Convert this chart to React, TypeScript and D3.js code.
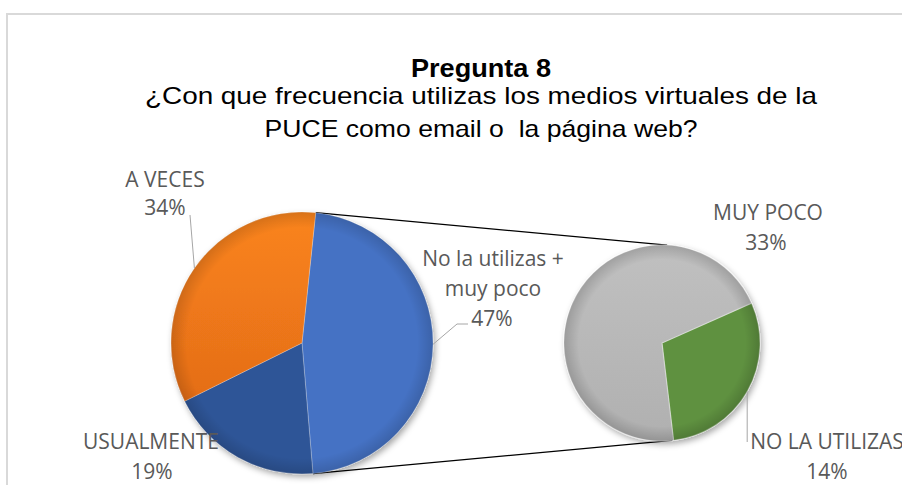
import React from "react";
import * as d3 from "d3";

const mainCategories = ["No la utilizas + muy poco", "USUALMENTE", "A VECES"];
const mainValues = [47, 19, 34];
const mainColors = ["#4472C4", "#2F5597", "#F07A1E"];

const subCategories = ["NO LA UTILIZAS", "MUY POCO"];
const subValues = [14, 33];
const subColors = ["#5E913F", "#B7B7B7"];

const titleText = "Pregunta 8";
const subtitleLines = [
  "¿Con que frecuencia utilizas los medios virtuales de la",
  "PUCE como email o  la página web?",
];

const W = 902;
const H = 485;
const deg = Math.PI / 180;

const main = { cx: 302, cy: 343, r: 131, start: 6 * deg };
const sub = { cx: 662, cy: 343, r: 98, start: 66 * deg };

function pt(c: { cx: number; cy: number }, r: number, a: number) {
  return [c.cx + r * Math.sin(a), c.cy - r * Math.cos(a)];
}

export default function App() {
  const mainPie = d3
    .pie<number>()
    .sort(null)
    .startAngle(main.start)
    .endAngle(main.start + 2 * Math.PI)(mainValues);
  const subPie = d3
    .pie<number>()
    .sort(null)
    .startAngle(sub.start)
    .endAngle(sub.start + 2 * Math.PI)(subValues);

  const arcMain = d3.arc<any>().innerRadius(0).outerRadius(main.r);
  const arcSub = d3.arc<any>().innerRadius(0).outerRadius(sub.r);

  const total = d3.sum(mainValues);
  const fmt = (v: number) => `${Math.round((v / total) * 100)}%`;

  const blue = mainPie[0];
  const m1 = pt(main, main.r, blue.startAngle);
  const m2 = pt(main, main.r, blue.endAngle);
  const s1 = pt(sub, sub.r, 3 * deg);
  const s2 = pt(sub, sub.r, 174 * deg);

  const mid = (a: any) => (a.startAngle + a.endAngle) / 2;

  const labelFont = "'Open Sans', 'Noto Sans', sans-serif";
  const labelColor = "#595959";
  const leader = "#A6A6A6";

  const aVecesEnd = pt(main, main.r, mid(mainPie[2]));
  const blueEnd = pt(main, main.r, mid(mainPie[0]));
  const greenEnd = pt(sub, sub.r, mid(subPie[0]));

  const labelStyle: React.CSSProperties = {
    fontFamily: labelFont,
    fontSize: 21,
    fill: labelColor,
  };

  const subtitleWidths = [672, 433];

  return (
    <svg
      width={W}
      height={H}
      style={{ position: "absolute", left: 0, top: 0, background: "#fff" }}
    >
      <defs>
        <filter id="shadow" x="-20%" y="-20%" width="140%" height="140%">
          <feDropShadow dx="2" dy="3" stdDeviation="3" floodColor="#000" floodOpacity="0.35" />
        </filter>
        <radialGradient id="rimMain" gradientUnits="userSpaceOnUse" cx={main.cx} cy={main.cy} r={main.r}>
          <stop offset="0.88" stopColor="#000" stopOpacity="0" />
          <stop offset="1" stopColor="#000" stopOpacity="0.14" />
        </radialGradient>
        <radialGradient id="rimSub" gradientUnits="userSpaceOnUse" cx={sub.cx} cy={sub.cy} r={sub.r}>
          <stop offset="0.85" stopColor="#000" stopOpacity="0" />
          <stop offset="1" stopColor="#000" stopOpacity="0.16" />
        </radialGradient>
        <linearGradient id="orangeGrad" x1="0" y1="0" x2="0" y2="1">
          <stop offset="0" stopColor="#FA841C" />
          <stop offset="1" stopColor="#E46D18" />
        </linearGradient>
        <linearGradient id="grayGrad" x1="0" y1="0" x2="0" y2="1">
          <stop offset="0" stopColor="#C0C0C0" />
          <stop offset="1" stopColor="#B0B0B0" />
        </linearGradient>
      </defs>

      <rect x={7} y={14} width={W + 20} height={H + 20} fill="#fff" stroke="#D9D9D9" strokeWidth={2} />

      <text x={481} y={77} textAnchor="middle" fontFamily="'Liberation Sans', Arial, sans-serif" fontWeight="bold" fontSize={25} fill="#000" textLength={140} lengthAdjust="spacingAndGlyphs">
        {titleText}
      </text>
      {subtitleLines.map((l, i) => (
        <text key={i} x={481} y={104 + i * 33} textAnchor="middle" fontFamily="'Liberation Sans', Arial, sans-serif" fontSize={24} fill="#000" style={{ whiteSpace: "pre" }} textLength={subtitleWidths[i]} lengthAdjust="spacingAndGlyphs">
          {l}
        </text>
      ))}

      <line x1={m1[0]} y1={m1[1]} x2={s1[0]} y2={s1[1]} stroke="#000" strokeWidth={1.2} />
      <line x1={m2[0]} y1={m2[1]} x2={s2[0]} y2={s2[1]} stroke="#000" strokeWidth={1.2} />

      <g filter="url(#shadow)">
        <g transform={`translate(${main.cx},${main.cy})`}>
          {mainPie.map((d, i) => (
            <path key={i} d={arcMain(d) || ""} fill={i === 2 ? "url(#orangeGrad)" : mainColors[i]} stroke="rgba(255,255,255,0.25)" strokeWidth={1} />
          ))}
        </g>
      </g>
      <circle cx={main.cx} cy={main.cy} r={main.r} fill="url(#rimMain)" />

      <g filter="url(#shadow)">
        <g transform={`translate(${sub.cx},${sub.cy})`}>
          {subPie.map((d, i) => (
            <path key={i} d={arcSub(d) || ""} fill={i === 1 ? "url(#grayGrad)" : subColors[i]} stroke="rgba(255,255,255,0.35)" strokeWidth={1.2} />
          ))}
        </g>
      </g>
      <circle cx={sub.cx} cy={sub.cy} r={sub.r} fill="url(#rimSub)" />

      <polyline points={`190,215 ${aVecesEnd[0]},${aVecesEnd[1]}`} fill="none" stroke={leader} strokeWidth={1} />
      <polyline points={`468,324 457,324 ${blueEnd[0]},${blueEnd[1]}`} fill="none" stroke={leader} strokeWidth={1} />
      <polyline points={`${greenEnd[0]},${greenEnd[1]} ${greenEnd[0]},442`} fill="none" stroke={leader} strokeWidth={1} />

      <g style={labelStyle} textAnchor="middle">
        <text x={165} y={187}>{mainCategories[2]}</text>
        <text x={165} y={215}>{fmt(mainValues[2])}</text>

        <text x={151} y={449}>{mainCategories[1]}</text>
        <text x={152} y={479}>{fmt(mainValues[1])}</text>

        <text x={493} y={266}>No la utilizas +</text>
        <text x={493} y={296}>muy poco</text>
        <text x={492} y={326}>{fmt(mainValues[0])}</text>

        <text x={768} y={220}>{subCategories[1]}</text>
        <text x={766} y={250}>{fmt(subValues[1])}</text>

        <text x={827} y={449}>{subCategories[0]}</text>
        <text x={827} y={479}>{fmt(subValues[0])}</text>
      </g>
    </svg>
  );
}
